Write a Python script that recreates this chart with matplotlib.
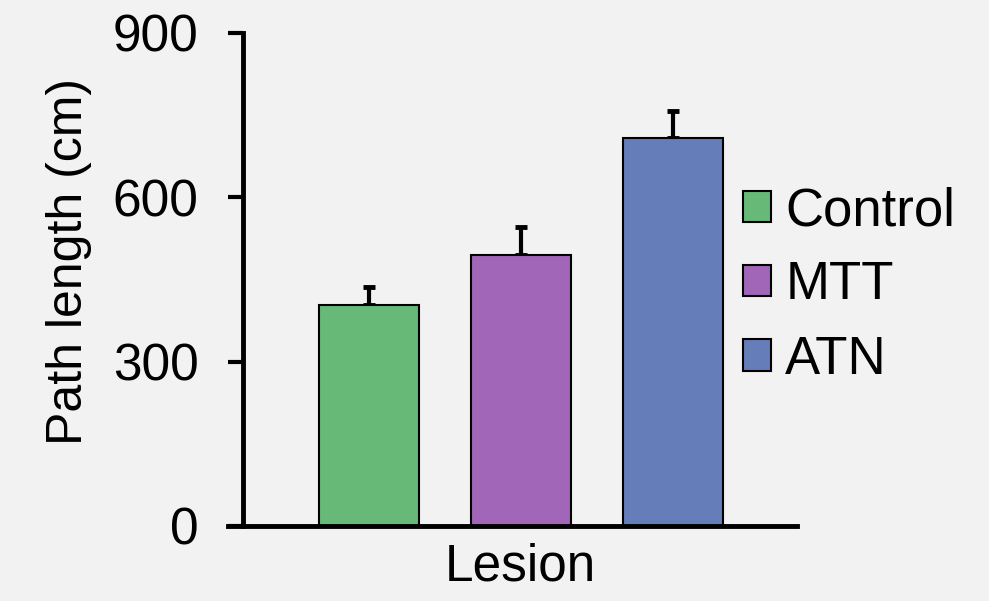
import matplotlib.pyplot as plt
import matplotlib.patches as mpatches
import numpy as np

# Path length by lesion group (mean +/- SEM)
groups = ['Control', 'MTT', 'ATN']
path_length = [404, 494, 708]
sem = [32, 52, 50]
colors = ['#66b977', '#a166b7', '#657db9']
yticks = [0, 300, 600, 900]

plt.rcParams['font.family'] = ['Liberation Sans', 'DejaVu Sans']
bg = '#f2f2f2'

fig = plt.figure(figsize=(9.89, 6.01), dpi=100, facecolor=bg)
ax = fig.add_axes([0.2457, 0.1248, 0.5602, 0.8203])
ax.set_facecolor(bg)

x = np.arange(len(groups))
ax.bar(x, path_length, width=0.658, color=colors, edgecolor='black', linewidth=1.5, zorder=2)
ax.errorbar(x, path_length, yerr=[np.zeros(len(sem)), sem], fmt='none',
            ecolor='black', elinewidth=3, capsize=4.5, capthick=3.5, zorder=1)

ax.set_xlim(-0.829, 2.816)
ax.set_ylim(0, 900)
ax.set_yticks(yticks)
ax.set_xticks([])
ax.tick_params(axis='y', labelsize=37, width=3, length=11, pad=21)
for s in ['top', 'right']:
    ax.spines[s].set_visible(False)
for s in ['left', 'bottom']:
    ax.spines[s].set_linewidth(3.5)
ax.spines['bottom'].set_bounds(-0.829 - 15 / 152, 2.816)
ax.spines['bottom'].set_clip_on(False)

ax.set_ylabel('Path length (cm)', fontsize=36)
ax.yaxis.set_label_coords(-0.272, 0.5375)
ax.set_xlabel('Lesion', fontsize=37, labelpad=12)

handles = [mpatches.Patch(facecolor=c, edgecolor='black', linewidth=1.5, label=g)
           for g, c in zip(groups, colors)]
fig.legend(handles=handles, loc='center left', bbox_to_anchor=(0.7513, 0.525),
           frameon=False, fontsize=38, handlelength=0.53, handleheight=0.53,
           handletextpad=0.27, labelspacing=0.46, borderaxespad=0, borderpad=0)

fig.savefig('out.png', dpi=100, facecolor=bg)
